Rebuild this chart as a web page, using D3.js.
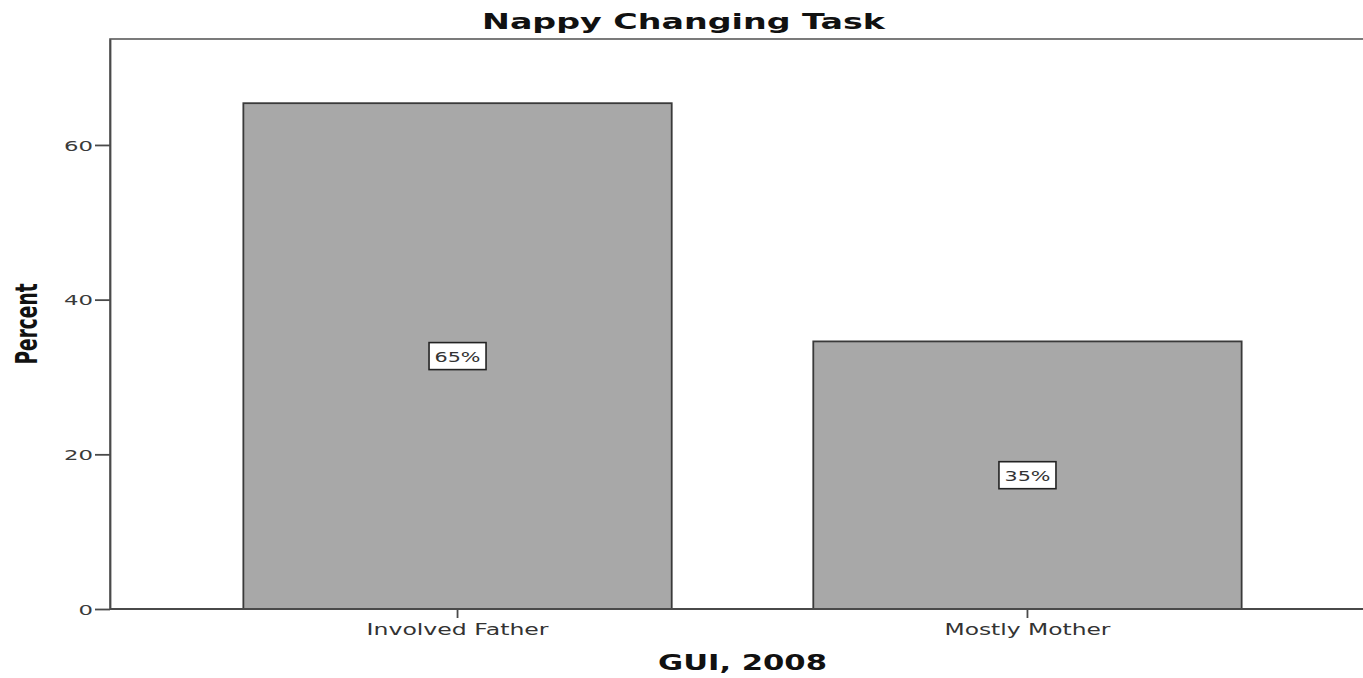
<!DOCTYPE html>
<html>
<head>
<meta charset="utf-8">
<script src="https://cdn.jsdelivr.net/npm/d3@7"></script>
<style>
  html, body { margin: 0; padding: 0; background: #fff; }
  svg { display: block; }
</style>
</head>
<body>
<svg id="chart" width="1363" height="678"></svg>
<script>
// ---- data ----
const categories = ["Involved Father", "Mostly Mother"];
const percentValues = [65.4, 34.6];
const barLabels = ["65%", "35%"];
const yTicks = [0, 20, 40, 60];
const chartTitle = "Nappy Changing Task";
const xTitle = "GUI, 2008";
const yTitle = "Percent";

// ---- layout ----
const W = 1363, H = 678;
const plot = { left: 110, top: 39, right: 1375, bottom: 609 };

const svg = d3.select("#chart");

const y = d3.scaleLinear().domain([0, 73.7]).range([plot.bottom, plot.top]);
const x = d3.scaleBand().domain(categories)
  .range([plot.left, plot.right])
  .paddingInner(0.2484)
  .paddingOuter(0.234)
  .align(0.5);

const axisColor = "#4a4a4a";

// frame
svg.append("rect")
  .attr("x", plot.left).attr("y", plot.top)
  .attr("width", plot.right - plot.left).attr("height", plot.bottom - plot.top)
  .attr("fill", "#fff").attr("stroke", "#5a5a5a").attr("stroke-width", 1.6);

// bars
const bars = svg.append("g");
bars.selectAll("rect").data(categories).join("rect")
  .attr("x", d => x(d))
  .attr("y", (d, i) => y(percentValues[i]))
  .attr("width", x.bandwidth())
  .attr("height", (d, i) => y(0) - y(percentValues[i]))
  .attr("fill", "#a8a8a8")
  .attr("stroke", "#3a3a3a")
  .attr("stroke-width", 1.8);

// y axis
const yAxis = svg.append("g")
  .attr("transform", `translate(${plot.left},0)`)
  .call(d3.axisLeft(y).tickValues(yTicks).tickSize(15).tickPadding(2).tickSizeOuter(0));
yAxis.select(".domain").attr("stroke", axisColor).attr("stroke-width", 1.8);
yAxis.selectAll(".tick line").attr("stroke", axisColor).attr("stroke-width", 1.8);
yAxis.selectAll(".tick text")
  .attr("font-family", "DejaVu Sans").attr("font-size", 14).attr("fill", "#3a3a3a")
  .attr("dy", "0.36em")
  .attr("textLength", d => String(d).length * 14.5)
  .attr("lengthAdjust", "spacingAndGlyphs");

// x axis
const xAxis = svg.append("g")
  .attr("transform", `translate(0,${plot.bottom})`)
  .call(d3.axisBottom(x).tickSize(9).tickPadding(4).tickSizeOuter(0));
xAxis.select(".domain").remove();
xAxis.selectAll(".tick line").attr("stroke", axisColor).attr("stroke-width", 1.8);
const xLabelWidths = { "Involved Father": 182, "Mostly Mother": 166 };
xAxis.selectAll(".tick text")
  .attr("font-family", "DejaVu Sans").attr("font-size", 15).attr("fill", "#333")
  .attr("y", 26).attr("dy", 0)
  .attr("textLength", d => xLabelWidths[d])
  .attr("lengthAdjust", "spacingAndGlyphs");
// bottom baseline
svg.append("line")
  .attr("x1", plot.left).attr("x2", plot.right)
  .attr("y1", plot.bottom).attr("y2", plot.bottom)
  .attr("stroke", axisColor).attr("stroke-width", 1.8);

// value labels
const lab = svg.append("g");
categories.forEach((c, i) => {
  const cx = x(c) + x.bandwidth() / 2;
  const cy = (y(percentValues[i]) + y(0)) / 2;
  const g = lab.append("g").attr("transform", `translate(${cx},${cy})`);
  g.append("rect")
    .attr("x", -28.5).attr("y", -13.5).attr("width", 57).attr("height", 27)
    .attr("fill", "#fff").attr("stroke", "#222").attr("stroke-width", 1.6);
  g.append("text")
    .attr("text-anchor", "middle").attr("y", 5.5)
    .attr("font-family", "DejaVu Sans").attr("font-size", 14).attr("fill", "#333")
    .attr("textLength", 46).attr("lengthAdjust", "spacingAndGlyphs")
    .text(barLabels[i]);
});

// title
svg.append("text")
  .attr("x", W / 2 + 2).attr("y", 29)
  .attr("text-anchor", "middle")
  .attr("font-family", "DejaVu Sans").attr("font-weight", "bold").attr("font-size", 22)
  .attr("fill", "#111")
  .attr("textLength", 403).attr("lengthAdjust", "spacingAndGlyphs")
  .text(chartTitle);

// x title
svg.append("text")
  .attr("x", (plot.left + plot.right) / 2).attr("y", 670)
  .attr("text-anchor", "middle")
  .attr("font-family", "DejaVu Sans").attr("font-weight", "bold").attr("font-size", 21)
  .attr("fill", "#111")
  .attr("textLength", 169).attr("lengthAdjust", "spacingAndGlyphs")
  .text(xTitle);

// y title
svg.append("text")
  .attr("transform", `translate(37,${(plot.top + plot.bottom) / 2}) rotate(-90)`)
  .attr("text-anchor", "middle")
  .attr("font-family", "DejaVu Sans").attr("font-weight", "bold").attr("font-size", 31)
  .attr("fill", "#111")
  .attr("textLength", 81).attr("lengthAdjust", "spacingAndGlyphs")
  .text(yTitle);
</script>
</body>
</html>
